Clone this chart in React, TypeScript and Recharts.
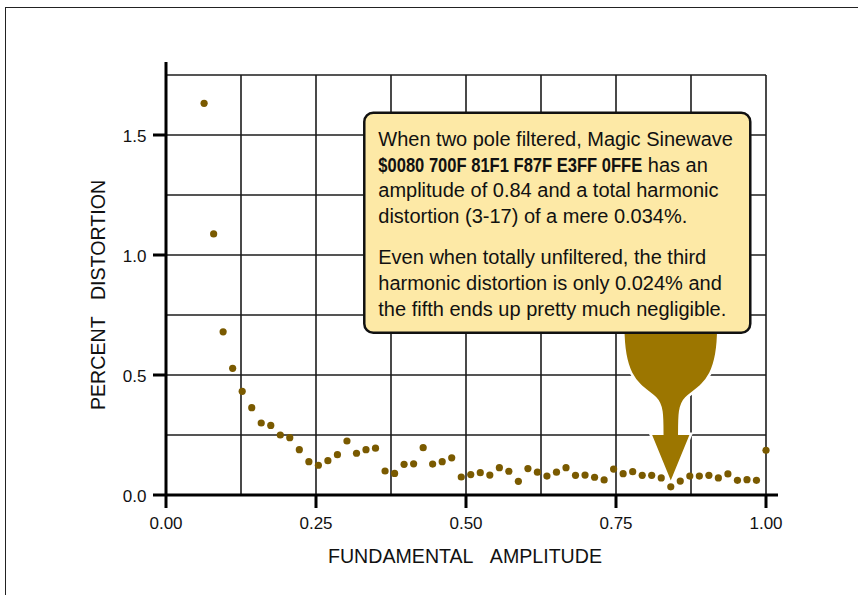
import React from 'react';
import { ScatterChart, Scatter, XAxis, YAxis, CartesianGrid, ReferenceLine, ReferenceDot, Label } from 'recharts';

// fundamental amplitude of each magic sinewave
const amplitude = [
  0.0635, 0.0794, 0.0952, 0.1111, 0.127, 0.1429, 0.1587, 0.1746, 0.1905, 0.2063,
  0.2222, 0.2381, 0.254, 0.2698, 0.2857, 0.3016, 0.3175, 0.3333, 0.3492, 0.3651,
  0.381, 0.3968, 0.4127, 0.4286, 0.4444, 0.4603, 0.4762, 0.4921, 0.5079, 0.5238,
  0.5397, 0.5556, 0.5714, 0.5873, 0.6032, 0.619, 0.6349, 0.6508, 0.6667, 0.6825,
  0.6984, 0.7143, 0.7302, 0.746, 0.7619, 0.7778, 0.7937, 0.8095, 0.8254, 0.8413,
  0.8571, 0.873, 0.8889, 0.9048, 0.9206, 0.9365, 0.9524, 0.9683, 0.9841, 1.0,
];

// percent distortion for each amplitude
const distortion = [
  1.632, 1.088, 0.68, 0.528, 0.432, 0.364, 0.3, 0.29, 0.25, 0.239,
  0.189, 0.139, 0.124, 0.143, 0.168, 0.225, 0.174, 0.189, 0.195, 0.1,
  0.09, 0.128, 0.13, 0.197, 0.129, 0.139, 0.155, 0.075, 0.085, 0.093,
  0.083, 0.114, 0.099, 0.057, 0.11, 0.095, 0.079, 0.095, 0.114, 0.082,
  0.083, 0.074, 0.063, 0.108, 0.089, 0.097, 0.082, 0.082, 0.071, 0.034,
  0.058, 0.079, 0.079, 0.082, 0.071, 0.088, 0.061, 0.064, 0.061, 0.186,
];

const xGridTicks = [0, 0.125, 0.25, 0.375, 0.5, 0.625, 0.75, 0.875, 1];
const yGridTicks = [0, 0.25, 0.5, 0.75, 1, 1.25, 1.5, 1.75];
const xLabeledTicks = [0, 0.25, 0.5, 0.75, 1];
const yLabeledTicks = [0, 0.5, 1, 1.5];

const calloutAmplitude = 0.8413;
const calloutDistortion = 0.034;
const sinewaveCode = '$0080 700F 81F1 F87F E3FF 0FFE';
const noteLines = [
  'When two pole filtered, Magic Sinewave',
  'has an',
  'amplitude of 0.84 and a total harmonic',
  'distortion (3-17) of a mere 0.034%.',
  'Even when totally unfiltered, the third',
  'harmonic distortion is only 0.024% and',
  'the fifth ends up pretty much negligible.',
];

const points = amplitude.map((x, i) => ({ x, y: distortion[i] }));

const FONT = '"Liberation Sans", Arial, Helvetica, sans-serif';
const DOT = '#7a5a00';
const ARROW = '#9c7600';

const XTick = (props: any) => {
  const { x, y, payload } = props;
  if (!xLabeledTicks.includes(payload.value)) return <g />;
  return (
    <g>
      <line x1={x} x2={x} y1={y} y2={y + 13} stroke="#000" strokeWidth={3} />
      <text x={x} y={y + 34} textAnchor="middle" fontSize={17} fontFamily={FONT} fill="#111">
        {payload.value.toFixed(2)}
      </text>
    </g>
  );
};

const YTick = (props: any) => {
  const { x, y, payload } = props;
  if (!yLabeledTicks.includes(payload.value)) return <g />;
  return (
    <g>
      <line x1={x - 13} x2={x} y1={y} y2={y} stroke="#000" strokeWidth={3} />
      <text x={x - 19.5} y={y + 7} textAnchor="end" fontSize={17} fontFamily={FONT} fill="#111">
        {payload.value.toFixed(1)}
      </text>
    </g>
  );
};

// callout box + funnel arrow, anchored on the 0.84 amplitude point
const Callout = (props: any) => {
  const { cx, cy } = props;
  const tx = cx;
  const ty = cy - 3;
  const arrow = [
    `M ${tx - 47.5} ${ty - 156}`,
    `C ${tx - 47.5} ${ty - 104}, ${tx - 30.5} ${ty - 99}, ${tx - 15.5} ${ty - 86}`,
    `C ${tx - 8.5} ${ty - 79}, ${tx - 8.5} ${ty - 69}, ${tx - 8.5} ${ty - 50}`,
    `L ${tx - 20.5} ${ty - 50}`,
    `L ${tx} ${ty}`,
    `L ${tx + 20.5} ${ty - 50}`,
    `L ${tx + 8.5} ${ty - 50}`,
    `C ${tx + 8.5} ${ty - 69}, ${tx + 8.5} ${ty - 79}, ${tx + 15.5} ${ty - 86}`,
    `C ${tx + 30.5} ${ty - 99}, ${tx + 47.5} ${ty - 104}, ${tx + 47.5} ${ty - 156}`,
    'Z',
  ].join(' ');
  const left = tx - 292.5;
  const baselines = [-338, -312.3, -286.6, -261, -219.7, -194, -168.3];
  return (
    <g>
      <path d={arrow} fill={ARROW} stroke="#fff" strokeWidth={2.5} />
      <rect x={tx - 306.5} y={ty - 371} width={386} height={220} rx={9} fill="#fde9a6" stroke="#111" strokeWidth={2.5} />
      <g fontFamily={FONT} fontSize={20} fill="#111">
        {noteLines.map((line, i) =>
          i === 1 ? (
            <text key={i} x={left} y={ty + baselines[i]}>
              <tspan
                fontFamily={'"Liberation Sans Narrow", "Arial Narrow", ' + FONT}
                fontWeight="bold"
                textLength={264}
                lengthAdjust="spacingAndGlyphs"
              >
                {sinewaveCode}
              </tspan>
              <tspan x={left + 269.5}>{line}</tspan>
            </text>
          ) : (
            <text key={i} x={left} y={ty + baselines[i]}>{line}</text>
          )
        )}
      </g>
    </g>
  );
};

export default function App() {
  return (
    <div style={{ position: 'absolute', left: 0, top: 0, width: 858, height: 595, overflow: 'hidden', background: '#fff', fontFamily: FONT }}>
      <div style={{ position: 'absolute', left: 5, top: 7, width: 900, height: 700, borderLeft: '1.5px solid #222', borderTop: '1.5px solid #222' }} />
      <div style={{ position: 'absolute', left: 0, top: 0 }}>
        <ScatterChart width={858} height={595} margin={{ top: 75, right: 92, bottom: 70, left: 0 }}>
          <CartesianGrid stroke="#1c1c1c" strokeWidth={1.6} />
          <XAxis
            type="number"
            dataKey="x"
            domain={[0, 1]}
            ticks={xGridTicks}
            interval={0}
            height={30}
            axisLine={false}
            tickLine={false}
            tickSize={0}
            tickMargin={0}
            tick={<XTick />}
          >
            <Label
              content={(p: any) => (
                <text x={p.viewBox.x + p.viewBox.width / 2 - 1} y={p.viewBox.y + 68} textAnchor="middle" fontSize={19.6} fontFamily={FONT} fill="#111">
                  {'FUNDAMENTAL\u00a0\u00a0\u00a0AMPLITUDE'}
                </text>
              )}
            />
          </XAxis>
          <YAxis
            type="number"
            dataKey="y"
            domain={[0, 1.75]}
            ticks={yGridTicks}
            interval={0}
            width={166}
            axisLine={false}
            tickLine={false}
            tickSize={0}
            tickMargin={0}
            tick={<YTick />}
          >
            <Label
              content={(p: any) => {
                const lx = 105;
                const ly = p.viewBox.y + p.viewBox.height / 2 + 10;
                return (
                  <text x={lx} y={ly} transform={`rotate(-90, ${lx}, ${ly})`} textAnchor="middle" fontSize={19.6} fontFamily={FONT} fill="#111">
                    {'PERCENT\u00a0\u00a0\u00a0DISTORTION'}
                  </text>
                );
              }}
            />
          </YAxis>
          <ReferenceLine segment={[{ x: 0, y: 0 }, { x: 0, y: 1.804 }]} stroke="#000" strokeWidth={3} ifOverflow="visible" />
          <ReferenceLine segment={[{ x: 0, y: 0 }, { x: 1.02, y: 0 }]} stroke="#000" strokeWidth={3} ifOverflow="visible" />
          <ReferenceDot x={calloutAmplitude} y={calloutDistortion} ifOverflow="visible" shape={Callout} />
          <Scatter
            data={points}
            isAnimationActive={false}
            shape={(p: any) => <circle cx={p.cx} cy={p.cy} r={3.6} fill={DOT} />}
          />
        </ScatterChart>
      </div>
    </div>
  );
}
